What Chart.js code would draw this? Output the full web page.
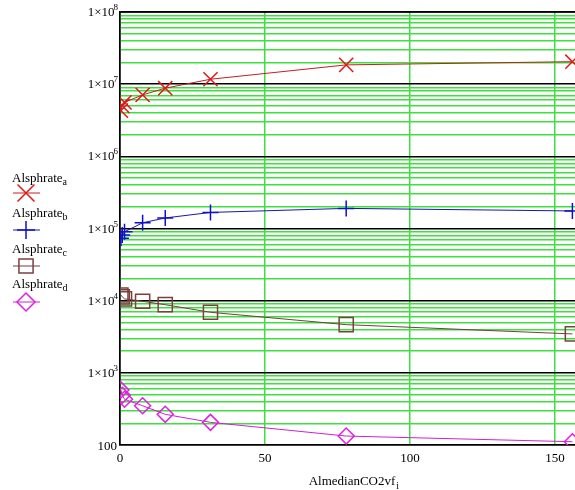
<!DOCTYPE html>
<html><head><meta charset="utf-8">
<script src="https://cdn.jsdelivr.net/npm/chart.js@4/dist/chart.umd.min.js"></script>
<style>html,body{margin:0;padding:0;background:#fff;overflow:hidden}canvas{display:block}</style>
</head><body>
<canvas id="c" width="575" height="490"></canvas>
<script>
const xValues = [0.312, 0.78, 1.56, 7.8, 15.6, 31.2, 78, 156];
const alsphrateA = [4.3e6, 5.0e6, 5.6e6, 7.1e6, 8.8e6, 1.17e7, 1.85e7, 2.05e7];
const alsphrateB = [7.3e4, 8.1e4, 9.0e4, 1.2e5, 1.4e5, 1.67e5, 1.9e5, 1.75e5];
const alsphrateC = [1.2e4, 1.13e4, 1.06e4, 9.8e3, 8.8e3, 6.9e3, 4.65e3, 3.46e3];
const alsphrateD = [580, 490, 430, 350, 266, 206, 133, 111];
const seriesNames = ['a', 'b', 'c', 'd'];
const xTicks = [0, 50, 100, 150];
const yDecades = [2, 3, 4, 5, 6, 7, 8];

const SERIF = '"Liberation Serif","DejaVu Serif",serif';
const colors = ['#e01818', '#1010c8', '#7a4040', '#e020e0'];
const lineColors = ['#c02020', '#1818a0', '#704040', '#d020d0'];
const styles = ['crossRot', 'cross', 'rect', 'rectRot'];
const radii = [10, 8, 10, 8];
const legRadii = [12, 9, 10, 9];
const allSeries = [alsphrateA, alsphrateB, alsphrateC, alsphrateD];

const datasets = allSeries.map((s, i) => ({
  label: 'Alsphrate' + seriesNames[i],
  data: xValues.map((x, j) => ({x: x, y: s[j]})),
  showLine: true,
  borderColor: lineColors[i],
  borderWidth: 1,
  pointStyle: styles[i],
  pointRadius: radii[i],
  pointBorderColor: colors[i],
  pointBackgroundColor: 'rgba(0,0,0,0)',
  pointBorderWidth: 1.5,
  fill: false
}));

function isDecade(v) {
  const l = Math.log10(v);
  return Math.abs(l - Math.round(l)) < 1e-9;
}

const textPlugin = {
  id: 'texts',
  afterDraw(chart) {
    const ctx = chart.ctx;
    const xs = chart.scales.x, ys = chart.scales.y;
    const ca = chart.chartArea;
    ctx.save();
    ctx.strokeStyle = '#000'; ctx.lineWidth = 1.5;
    ctx.beginPath(); ctx.moveTo(ca.left, ca.top); ctx.lineTo(ca.right, ca.top); ctx.stroke();
    ctx.fillStyle = '#000';
    ctx.textBaseline = 'alphabetic';
    yDecades.forEach(p => {
      const y = ys.getPixelForValue(Math.pow(10, p));
      if (p === 2) {
        ctx.font = '13px ' + SERIF;
        ctx.textAlign = 'right';
        ctx.fillText('100', 117, y + 5);
      } else {
        ctx.font = '9px ' + SERIF;
        ctx.textAlign = 'right';
        const supW = ctx.measureText(String(p)).width;
        ctx.fillText(String(p), 118, y - 2);
        ctx.font = '13px ' + SERIF;
        ctx.fillText('1\u00d710', 118 - supW + 1, y + 4);
      }
    });
    ctx.font = '13px ' + SERIF;
    ctx.textAlign = 'center';
    xTicks.forEach(v => {
      ctx.fillText(String(v), xs.getPixelForValue(v), 462);
    });
    ctx.textAlign = 'left';
    ctx.font = '13px ' + SERIF;
    const t = 'AlmedianCO2vf';
    const w = ctx.measureText(t).width;
    const x0 = 352 - w / 2;
    ctx.fillText(t, x0, 485);
    ctx.font = '10px ' + SERIF;
    ctx.fillText('i', x0 + w + 1, 489);
    const legY = [182, 217, 253, 288];
    const mkY = [193, 230, 266, 302];
    seriesNames.forEach((n, i) => {
      ctx.fillStyle = '#000';
      ctx.font = '13px ' + SERIF;
      ctx.textAlign = 'left';
      ctx.fillText('Alsphrate', 12, legY[i]);
      const tw = ctx.measureText('Alsphrate').width;
      ctx.font = '10px ' + SERIF;
      ctx.fillText(n, 12 + tw, legY[i] + 3);
      ctx.strokeStyle = lineColors[i]; ctx.lineWidth = 1;
      ctx.beginPath(); ctx.moveTo(13, mkY[i]); ctx.lineTo(40, mkY[i]); ctx.stroke();
      ctx.strokeStyle = colors[i]; ctx.lineWidth = 1.5;
      ctx.fillStyle = 'rgba(0,0,0,0)';
      Chart.helpers.drawPoint(ctx, {pointStyle: styles[i], radius: legRadii[i], borderWidth: 1.5}, 26, mkY[i]);
    });
    ctx.restore();
  }
};

new Chart(document.getElementById('c'), {
  type: 'scatter',
  data: {datasets},
  options: {
    responsive: false,
    animation: false,
    devicePixelRatio: 1,
    layout: {autoPadding: false, padding: {left: 120, top: 12, right: 0, bottom: 45}},
    plugins: {legend: {display: false}, tooltip: {enabled: false}},
    scales: {
      x: {
        type: 'linear', min: 0, max: 156.9,
        afterBuildTicks: s => { s.ticks = xTicks.map(v => ({value: v})); },
        afterFit: s => { s.height = 0; s.paddingLeft = 0; s.paddingRight = 0; },
        ticks: {display: false},
        grid: {drawTicks: false, color: c => c.tick && c.tick.value === 0 ? '#000' : '#3ee03e', lineWidth: 1.5},
        border: {display: true, color: '#000', width: 1.5}
      },
      y: {
        type: 'logarithmic', min: 100, max: 1e8,
        afterBuildTicks: s => {
          const t = [];
          for (let p = 2; p < 8; p++) for (let k = 1; k < 10; k++) t.push({value: k * Math.pow(10, p)});
          t.push({value: 1e8});
          s.ticks = t;
        },
        afterFit: s => { s.width = 0; },
        ticks: {display: false},
        grid: {drawTicks: false, color: c => c.tick && isDecade(c.tick.value) ? '#000' : '#3ee03e', lineWidth: 1.5},
        border: {display: true, color: '#000', width: 1.5}
      }
    }
  },
  plugins: [textPlugin]
});
</script>
</body></html>
